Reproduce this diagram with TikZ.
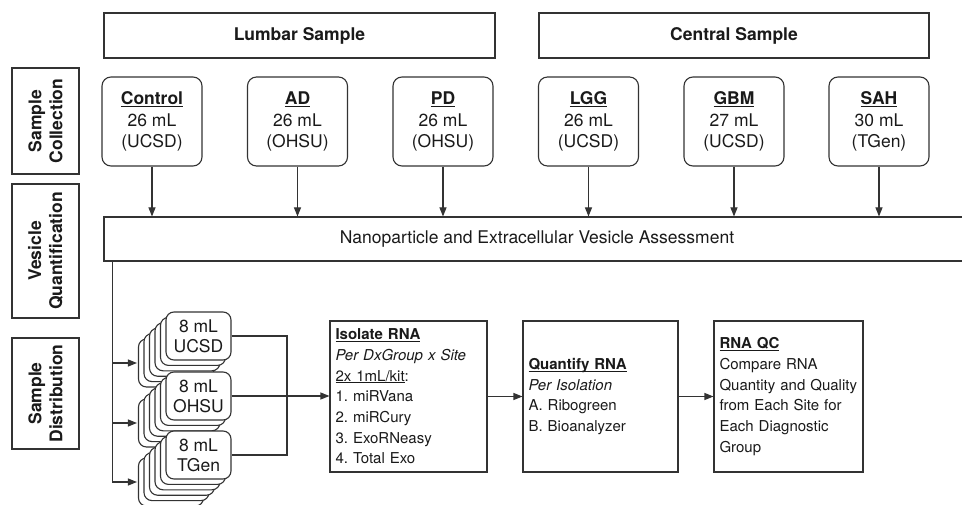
\documentclass[tikz,border=0pt]{standalone}
\usepackage{fontspec}
\setmainfont{TeX Gyre Heros}
\usetikzlibrary{arrows.meta}
\definecolor{lc}{HTML}{333333}
\definecolor{tc}{HTML}{1A1A1A}
\newsavebox{\ulbox}
\newcommand{\myul}[1]{\leavevmode\mbox{\sbox{\ulbox}{#1}\rlap{\rule[-2.3pt]{\wd\ulbox}{1pt}}\usebox{\ulbox}}}
\frenchspacing
\begin{document}
\frenchspacing
\begin{tikzpicture}[x=1pt,y=-1pt,
  font=\fontsize{17.5}{21.5}\selectfont,
  plain/.style={draw=lc, line width=1.1pt, fill=white, text=tc, inner sep=0pt},
  rbox/.style={plain, rounded corners=9pt, align=center, minimum width=100pt, minimum height=89pt},
  sbox/.style={plain, rounded corners=8pt, minimum width=65pt, minimum height=48pt, align=center,
    font=\fontsize{17.5}{20}\selectfont},
  lbox/.style={plain, align=left, minimum height=151pt, inner xsep=5.5pt,
    font=\fontsize{15}{20.7}\selectfont\frenchspacing},
  side/.style={plain, rotate=90, align=center, minimum height=67pt, font=\bfseries\fontsize{17.5}{21}\selectfont},
  arr/.style={draw=lc, line width=1.1pt, -{Triangle[length=9pt,width=7pt]}},
  ln/.style={draw=lc, line width=1.1pt}]
\useasboundingbox (0,0) rectangle (962,505);

% header boxes
\node[plain, minimum width=391pt, minimum height=45pt] (lumbar) at (299.5,35.5) {\textbf{Lumbar Sample}};
\node[plain, minimum width=390pt, minimum height=45pt] (central) at (734,35.5) {\textbf{Central Sample}};

% side labels
\node[side, minimum width=106pt] (sc) at (45.5,121) {Sample\\Collection};
\node[side, minimum width=134pt] (vq) at (45.5,251) {Vesicle\\Quantification};
\node[side, minimum width=111pt] (sd) at (45.5,393.5) {Sample\\Distribution};

% sample boxes
\node[rbox] (ctl) at (152,121.5) {\myul{\textbf{Control}}\\26 mL\\(UCSD)};
\node[rbox] (ad)  at (297.5,121.5) {\myul{\textbf{AD}}\\26 mL\\(OHSU)};
\node[rbox] (pd)  at (443,121.5) {\myul{\textbf{PD}}\\26 mL\\(OHSU)};
\node[rbox] (lgg) at (588.5,121.5) {\myul{\textbf{LGG}}\\26 mL\\(UCSD)};
\node[rbox] (gbm) at (734,121.5) {\myul{\textbf{GBM}}\\27 mL\\(UCSD)};
\node[rbox] (sah) at (879,121.5) {\myul{\textbf{SAH}}\\30 mL\\(TGen)};

% vesicle assessment
\node[plain, minimum width=866pt, minimum height=44pt] (nano) at (537,239) {Nanoparticle and Extracellular Vesicle Assessment};

\foreach \n in {ctl,ad,pd,lgg,gbm,sah}
  \draw[arr] (\n.south) -- (\n.south |- nano.north);

% stacks
\foreach \k in {5,4,3,2,1}
  \node[sbox] (u\k) at ({198.5-5.5*\k},{336+5.4*\k}) {};
\node[sbox] (ucsd) at (198.5,336) {8 mL\\UCSD};
\foreach \k in {5,4,3,2,1}
  \node[sbox] (o\k) at ({198.5-5.5*\k},{396+5.4*\k}) {};
\node[sbox] (ohsu) at (198.5,396) {8 mL\\OHSU};
\foreach \k in {5,4,3,2,1}
  \node[sbox] (t\k) at ({198.5-5.5*\k},{455+5.4*\k}) {};
\node[sbox] (tgen) at (198.5,455) {8 mL\\TGen};

% distribution arrows
\coordinate (dtop) at ([xshift=9pt]nano.south west);
\draw[arr, shorten >=1pt] (dtop) |- (t5.west);
\draw[arr, shorten >=1pt] (dtop |- u5.west) -- (u5.west);
\draw[arr, shorten >=1pt] (dtop |- o5.west) -- (o5.west);

% lower boxes
\node[lbox, text width=146pt] (iso) at (408.5,396.5)
  {\myul{\textbf{Isolate RNA}}\\\textit{Per DxGroup x Site}\\\myul{2x 1mL/kit}:\\1. miRVana\\2. miRCury\\3. ExoRNeasy\\4. Total Exo};
\node[lbox, text width=144pt] (quant) at (600.5,396.5)
  {\myul{\textbf{Quantify RNA}}\\\textit{Per Isolation}\\A. Ribogreen\\B. Bioanalyzer};
\node[lbox, text width=138pt] (qc) at (788.5,396.5)
  {\myul{\textbf{RNA QC}}\\Compare RNA\\Quantity and Quality\\from Each Site for\\Each Diagnostic\\Group};

% bracket and flow
\coordinate (bx) at (287,336);
\draw[ln] (ucsd.east) -| (bx |- tgen.east) -- (tgen.east);
\draw[arr] (ohsu.east) -- (ohsu.east -| iso.west);
\draw[arr] (iso.east) -- (quant.west);
\draw[arr] (quant.east) -- (qc.west);
\end{tikzpicture}
\end{document}
